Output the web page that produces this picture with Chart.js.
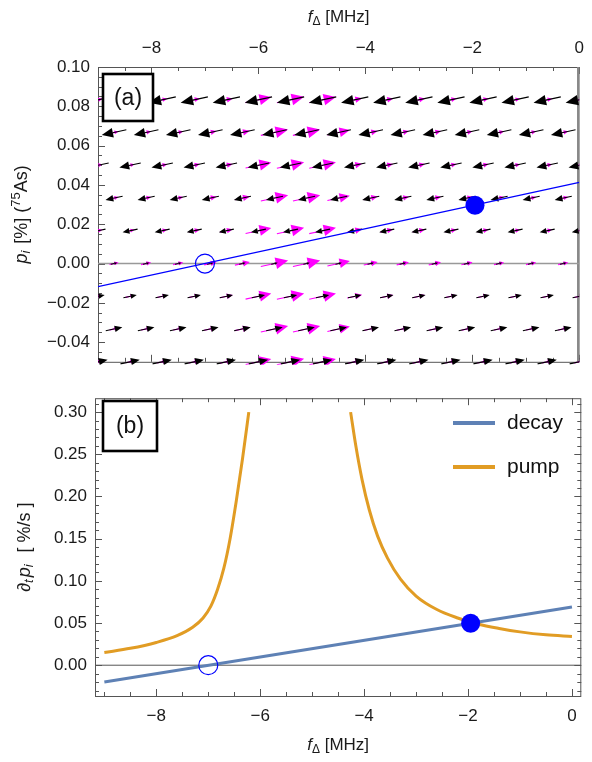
<!DOCTYPE html>
<html>
<head>
<meta charset="utf-8">
<script src="https://cdn.jsdelivr.net/npm/chart.js@4.4.1/dist/chart.umd.min.js"></script>
<style>
  html, body { margin: 0; padding: 0; background: #fff; }
  #wrap { position: relative; width: 592px; height: 762px; }
  #topChart { position: absolute; left: 0; top: 0; }
  #botChart { position: absolute; left: 0; top: 380px; }
</style>
</head>
<body>
<div id="wrap">
  <canvas id="topChart" width="592" height="380"></canvas>
  <canvas id="botChart" width="592" height="382"></canvas>
</div>
<script>
// ---- data ----
const fTicks = [-8, -6, -4, -2, 0];
const pTicks = [-0.04, -0.02, 0.00, 0.02, 0.04, 0.06, 0.08, 0.10];
const rateTicks = [0.00, 0.05, 0.10, 0.15, 0.20, 0.25, 0.30];

// panel (a)
const nullclineF = [-9, 0];
const nullclineP = [-0.0118, 0.0413];
const stableF = [-1.95], stableP = [0.0297];
const unstableF = [-7.0], unstableP = [0.0];

// quiver grid (staggered rows), arrow length along f in MHz
const arrowRowsP = [-0.05, -0.0333, -0.0167, 0, 0.0167, 0.0333, 0.05, 0.0667, 0.0833];
const decayDf = [0.36, 0.31, 0.25, 0.12, -0.28, -0.32, -0.40, -0.46, -0.51];
const colsA = [-9, -8.4, -7.8, -7.2, -6.6, -6.0, -5.4, -4.8, -4.2, -3.6, -3.0, -2.4, -1.8, -1.2, -0.6, 0];
const pumpDfA = [0.17, 0.17, 0.19, 0.21, 0.24, 0.48, 0.51, 0.50, 0.28, 0.24, 0.23, 0.21, 0.21, 0.19, 0.19, 0.19];
const colsB = [-8.7, -8.1, -7.5, -6.9, -6.3, -5.7, -5.1, -4.5, -3.9, -3.3, -2.7, -2.1, -1.5, -0.9, -0.3];
const pumpDfB = [0.17, 0.19, 0.19, 0.23, 0.28, 0.51, 0.51, 0.42, 0.26, 0.23, 0.23, 0.21, 0.19, 0.19, 0.19];

// panel (b)
const decayF = [-9, 0];
const decayR = [-0.020, 0.069];
const pumpLeftF = [-9.0, -8.5, -8.0, -7.6, -7.3, -7.1, -6.95, -6.82, -6.7, -6.58, -6.46, -6.34, -6.22];
const pumpLeftR = [0.015, 0.020, 0.027, 0.035, 0.045, 0.056, 0.070, 0.090, 0.115, 0.150, 0.195, 0.245, 0.300];
const pumpRightF = [-4.26, -4.16, -4.04, -3.9, -3.74, -3.55, -3.3, -3.0, -2.6, -2.2, -1.8, -1.4, -1.0, -0.5, 0];
const pumpRightR = [0.300, 0.260, 0.220, 0.184, 0.153, 0.127, 0.102, 0.082, 0.066, 0.056, 0.0485, 0.0435, 0.0395, 0.036, 0.034];
const stableRate = [0.0497], unstableRate = [0.0];

// ---- helpers ----
const FONT = '"Liberation Sans", Arial, sans-serif';
const TXT = '#1a1a1a';
const BLUE = '#0000ff';
const DECAY_COL = '#5e81b5';
const PUMP_COL = '#e19c24';

const pts = (xs, ys) => xs.map((x, i) => ({ x: x, y: ys[i] }));
const minus = s => s.replace('-', '\u2212');
const fmtInt = v => minus(String(Math.round(v)));
const fmt2 = v => minus((Math.abs(v) < 1e-9 ? 0 : v).toFixed(2));

// mixed-style text (italics, sub/superscripts)
function richWidth(ctx, parts) {
  let w = 0;
  parts.forEach(p => { ctx.font = p.font; w += ctx.measureText(p.t).width + (p.gap || 0); });
  return w;
}
function drawRich(ctx, parts, cx, cy) {
  ctx.textBaseline = 'middle';
  ctx.textAlign = 'left';
  let x = cx - richWidth(ctx, parts) / 2;
  parts.forEach(p => {
    ctx.font = p.font;
    ctx.fillText(p.t, x, cy + (p.dy || 0));
    x += ctx.measureText(p.t).width + (p.gap || 0);
  });
}
const N = '17px ' + FONT, I = 'italic 17px ' + FONT, S = '12px ' + FONT, SI = 'italic 12px ' + FONT;
const NL = '18px ' + FONT, IL = 'italic 18px ' + FONT, SIL = 'italic 13px ' + FONT, SL = '13px ' + FONT;
const xTitle = [{ t: 'f', font: I }, { t: '\u0394', font: S, dy: 5 }, { t: ' [MHz]', font: N }];

// frame with inward ticks on chosen sides
function drawFrame(chart, cfg) {
  const { ctx, chartArea: a, scales } = chart;
  const xs = scales.x, ys = scales.y;
  ctx.save();
  ctx.strokeStyle = '#555';
  ctx.lineWidth = 1;
  const tick = (x0, y0, x1, y1) => { ctx.beginPath(); ctx.moveTo(x0, y0); ctx.lineTo(x1, y1); ctx.stroke(); };
  const isMajor = (v, step) => Math.abs(v / step - Math.round(v / step)) < 1e-6;
  for (let v = Math.ceil(xs.min / cfg.xMinor) * cfg.xMinor; v <= xs.max + 1e-9; v += cfg.xMinor) {
    const px = Math.round(xs.getPixelForValue(v)) + 0.5;
    const L = isMajor(v, cfg.xMajor) ? 7 : 4;
    if (cfg.xTop) tick(px, a.top, px, a.top + L);
    if (cfg.xBottom) tick(px, a.bottom, px, a.bottom - L);
  }
  for (let k = Math.ceil(ys.min / cfg.yMinor - 1e-6); k * cfg.yMinor <= ys.max + 1e-9; k++) {
    const v = k * cfg.yMinor;
    const py = Math.round(ys.getPixelForValue(v)) + 0.5;
    const L = isMajor(v, cfg.yMajor) ? 7 : 4;
    if (cfg.yLeft) tick(a.left, py, a.left + L, py);
    if (cfg.yRight) tick(a.right, py, a.right - L, py);
  }
  ctx.strokeRect(a.left + 0.5, a.top + 0.5, a.right - a.left - 1, a.bottom - a.top);
  if (cfg.rightHeavy) {
    ctx.strokeStyle = '#888';
    ctx.lineWidth = 2.5;
    tick(a.right - 1, a.top, a.right - 1, a.bottom);
  }
  ctx.restore();
}

function drawLabelBox(ctx, text, x, y, w, h) {
  ctx.save();
  ctx.strokeStyle = '#000';
  ctx.lineWidth = 2.6;
  ctx.fillStyle = '#fff';
  ctx.fillRect(x, y, w, h);
  ctx.strokeRect(x, y, w, h);
  ctx.fillStyle = '#111';
  ctx.font = '23px ' + FONT;
  ctx.textAlign = 'center';
  ctx.textBaseline = 'middle';
  ctx.fillText(text, x + w / 2, y + h / 2 + 1);
  ctx.restore();
}

// quiver arrows drawn through the chart scales
const arrowSlope = (nullclineP[1] - nullclineP[0]) / (nullclineF[1] - nullclineF[0]);
function drawArrow(ctx, xs, ys, f, p, df, color, headW) {
  if (Math.abs(df) < 1e-6) return;
  const dp = df * arrowSlope;
  const x0 = xs.getPixelForValue(f - df / 2), y0 = ys.getPixelForValue(p - dp / 2);
  const x1 = xs.getPixelForValue(f + df / 2), y1 = ys.getPixelForValue(p + dp / 2);
  const len = Math.hypot(x1 - x0, y1 - y0);
  const ux = (x1 - x0) / len, uy = (y1 - y0) / len;
  const hl = len * 0.45, hw = len * headW;
  const bx = x1 - ux * hl, by = y1 - uy * hl;
  ctx.strokeStyle = color;
  ctx.fillStyle = color;
  ctx.lineWidth = 1.1;
  ctx.beginPath(); ctx.moveTo(x0, y0); ctx.lineTo(bx, by); ctx.stroke();
  ctx.beginPath();
  ctx.moveTo(x1, y1);
  ctx.lineTo(bx - uy * hw, by + ux * hw);
  ctx.lineTo(bx + uy * hw, by - ux * hw);
  ctx.closePath();
  ctx.fill();
}

const quiverPlugin = {
  id: 'quiver',
  afterDatasetDraw(chart, args) {
    if (args.index !== 0) return;
    const { ctx, chartArea: a, scales } = chart;
    ctx.save();
    ctx.beginPath();
    ctx.rect(a.left, a.top, a.right - a.left, a.bottom - a.top + 3);
    ctx.clip();
    arrowRowsP.forEach((p, k) => {
      const cols = k % 2 === 0 ? colsA : colsB;
      const pump = k % 2 === 0 ? pumpDfA : pumpDfB;
      cols.forEach((f, j) => drawArrow(ctx, scales.x, scales.y, f, p, pump[j], '#ff00ff', 0.21));
      cols.forEach(f => drawArrow(ctx, scales.x, scales.y, f, p, decayDf[k], '#000', 0.19));
    });
    ctx.restore();
  }
};

const topDecor = {
  id: 'topDecor',
  beforeDatasetsDraw(chart) {
    drawFrame(chart, { xMinor: 0.5, xMajor: 2, yMinor: 0.005, yMajor: 0.02,
      xTop: true, xBottom: true, yLeft: true, yRight: false, rightHeavy: true });
  },
  afterDraw(chart) {
    const { ctx, chartArea: a } = chart;
    ctx.save();
    ctx.fillStyle = TXT;
    drawRich(ctx, xTitle, (a.left + a.right) / 2, 17);
    ctx.translate(22, (a.top + a.bottom) / 2);
    ctx.rotate(-Math.PI / 2);
    drawRich(ctx, [
      { t: 'p', font: IL }, { t: 'i', font: SIL, dy: 4, gap: 2 }, { t: ' [%] (', font: NL },
      { t: '75', font: SL, dy: -6 }, { t: 'As)', font: NL }
    ], 0, 0);
    ctx.restore();
    drawLabelBox(ctx, '(a)', 103, 74, 50, 47);
  }
};

const botDecor = {
  id: 'botDecor',
  beforeDatasetsDraw(chart) {
    drawFrame(chart, { xMinor: 0.5, xMajor: 2, yMinor: 0.01, yMajor: 0.05,
      xTop: true, xBottom: true, yLeft: true, yRight: true });
  },
  afterDraw(chart) {
    const { ctx, chartArea: a } = chart;
    ctx.save();
    ctx.fillStyle = TXT;
    drawRich(ctx, xTitle, (a.left + a.right) / 2, 365);
    ctx.save();
    ctx.translate(25, (a.top + a.bottom) / 2);
    ctx.rotate(-Math.PI / 2);
    drawRich(ctx, [
      { t: '\u2202', font: IL }, { t: 't', font: SIL, dy: 4, gap: 2 }, { t: 'p', font: IL },
      { t: 'i', font: SIL, dy: 4, gap: 12 }, { t: '[ %/s ]', font: NL }
    ], 0, 0);
    ctx.restore();
    // legend from dataset labels / colours
    const items = chart.data.datasets.filter(d => d.legend);
    items.forEach((d, i) => {
      const y = 43 + i * 44;
      ctx.strokeStyle = d.borderColor;
      ctx.lineWidth = 4;
      ctx.beginPath(); ctx.moveTo(453, y); ctx.lineTo(495, y); ctx.stroke();
      ctx.fillStyle = '#111';
      ctx.font = '21px ' + FONT;
      ctx.textAlign = 'left';
      ctx.textBaseline = 'middle';
      ctx.fillText(d.label, 507, y);
    });
    ctx.restore();
    drawLabelBox(ctx, '(b)', 103, 21, 54, 50);
  }
};

const tickFont = { family: FONT, size: 17 };
const noGrid = { display: false, drawTicks: false };

new Chart(document.getElementById('topChart'), {
  type: 'scatter',
  data: {
    datasets: [
      { label: 'zero', data: pts(nullclineF, [0, 0]), showLine: true, borderColor: '#999',
        borderWidth: 1.5, pointRadius: 0, order: 3 },
      { label: 'nullcline', data: pts(nullclineF, nullclineP), showLine: true, borderColor: BLUE,
        borderWidth: 1.3, pointRadius: 0, order: 2 },
      { label: 'stable', data: pts(stableF, stableP), pointRadius: 9.5, backgroundColor: BLUE,
        borderColor: BLUE, borderWidth: 0, order: 1 },
      { label: 'unstable', data: pts(unstableF, unstableP), pointRadius: 9.5,
        backgroundColor: 'rgba(0,0,0,0)', borderColor: BLUE, borderWidth: 1.2, order: 1 }
    ]
  },
  options: {
    responsive: false,
    animation: false,
    events: [],
    layout: { padding: { left: 0, right: 5, top: 0, bottom: 12 } },
    plugins: { legend: { display: false }, tooltip: { enabled: false } },
    scales: {
      x: {
        type: 'linear', position: 'top', min: -9, max: 0,
        afterBuildTicks: s => { s.ticks = fTicks.map(v => ({ value: v })); },
        afterFit: s => { s.height = 67; },
        grid: noGrid, border: { display: false },
        ticks: { padding: 8, font: tickFont, color: TXT, callback: v => fmtInt(v) }
      },
      y: {
        type: 'linear', min: -0.05, max: 0.10,
        afterBuildTicks: s => { s.ticks = pTicks.map(v => ({ value: v })); },
        afterFit: s => { s.width = 98; },
        grid: noGrid, border: { display: false },
        ticks: { padding: 8, font: tickFont, color: TXT, callback: v => fmt2(v) }
      }
    }
  },
  plugins: [topDecor, quiverPlugin]
});

new Chart(document.getElementById('botChart'), {
  type: 'scatter',
  data: {
    datasets: [
      { label: 'zero', data: pts([-9.18, 0.18], [0, 0]), showLine: true, borderColor: '#555',
        borderWidth: 1, pointRadius: 0, order: 4 },
      { label: 'decay', legend: true, data: pts(decayF, decayR), showLine: true,
        borderColor: DECAY_COL, borderWidth: 3, pointRadius: 0, order: 3 },
      { label: 'pump', legend: true, data: pts(pumpLeftF, pumpLeftR), showLine: true,
        borderColor: PUMP_COL, borderWidth: 3, pointRadius: 0, cubicInterpolationMode: 'monotone', order: 2 },
      { label: 'pump', data: pts(pumpRightF, pumpRightR), showLine: true,
        borderColor: PUMP_COL, borderWidth: 3, pointRadius: 0, cubicInterpolationMode: 'monotone', order: 2 },
      { label: 'stable', data: pts(stableF, stableRate), pointRadius: 9.5, backgroundColor: BLUE,
        borderColor: BLUE, borderWidth: 0, order: 1 },
      { label: 'unstable', data: pts(unstableF, unstableRate), pointRadius: 9.5,
        backgroundColor: 'rgba(0,0,0,0)', borderColor: BLUE, borderWidth: 1.2, order: 1 }
    ]
  },
  options: {
    responsive: false,
    animation: false,
    events: [],
    layout: { padding: { left: 0, right: 9, top: 15, bottom: 0 } },
    plugins: { legend: { display: false }, tooltip: { enabled: false } },
    scales: {
      x: {
        type: 'linear', position: 'bottom', min: -9.18, max: 0.18,
        afterBuildTicks: s => { s.ticks = fTicks.map(v => ({ value: v })); },
        afterFit: s => { s.height = 66; },
        grid: noGrid, border: { display: false },
        ticks: { padding: 10, font: tickFont, color: TXT, callback: v => fmtInt(v) }
      },
      y: {
        type: 'linear', min: -0.0365, max: 0.3165,
        afterBuildTicks: s => { s.ticks = rateTicks.map(v => ({ value: v })); },
        afterFit: s => { s.width = 95; },
        grid: noGrid, border: { display: false },
        ticks: { padding: 8, font: tickFont, color: TXT, callback: v => fmt2(v) }
      }
    }
  },
  plugins: [botDecor]
});
</script>
</body>
</html>
